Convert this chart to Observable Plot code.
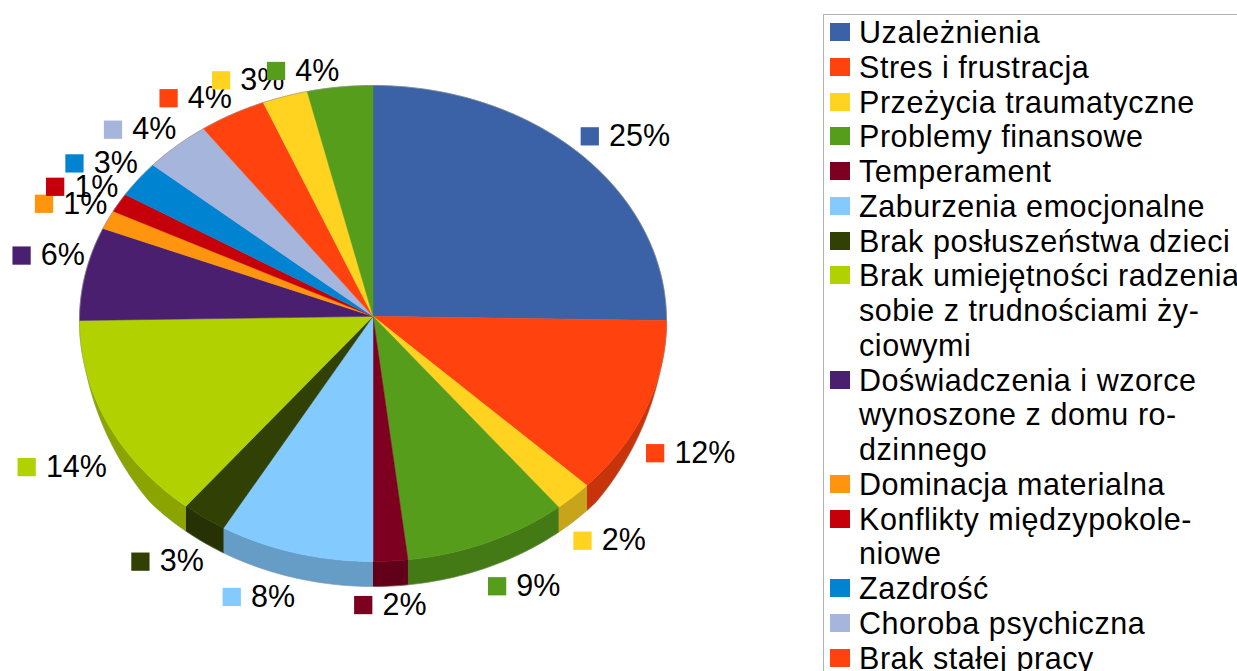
<!DOCTYPE html>
<html lang="pl">
<head>
<meta charset="utf-8">
<script src="https://cdn.jsdelivr.net/npm/d3@7"></script>
<script src="https://cdn.jsdelivr.net/npm/@observablehq/plot@0.6"></script>
<style>
html,body{margin:0;padding:0;background:#fff;width:1237px;height:671px;overflow:hidden;font-family:"Liberation Sans",Arial,sans-serif}
#chart{position:absolute;left:0;top:0}
#legend{position:absolute;left:823px;top:14px;width:414px;height:657px;box-sizing:border-box;border-left:1px solid #b3b3b3;border-top:1px solid #b3b3b3;overflow:hidden;color:#000}
.row{position:relative;padding-left:35px;font-size:30.5px;line-height:34.75px;letter-spacing:.55px;white-space:pre}
.row i{position:absolute;left:6px;top:8px;width:20px;height:18px}
</style>
</head>
<body>
<div id="chart"></div>
<div id="legend"></div>
<script>
// Slices, clockwise from 12 o'clock
const sliceValues = [25, 12, 2.1, 9, 1.9, 8.5, 2.5, 14, 6.4, 1.3, 1.3, 2.5, 3.7, 3.7, 2.5, 3.6];
const sliceLabels = ["25%","12%","2%","9%","2%","8%","3%","14%","6%","1%","1%","3%","4%","4%","3%","4%"];
const sliceColors = ["#3b62a6","#ff420e","#ffd320","#579d1c","#7e0021","#83caff","#314004","#b2d200","#4b1f6f","#ff950e","#c5000b","#0084d1","#a6b5dc","#ff420e","#ffd320","#579d1c"];
const legendNames = [
  "Uzależnienia","Stres i frustracja","Przeżycia traumatyczne","Problemy finansowe","Temperament",
  "Zaburzenia emocjonalne","Brak posłuszeństwa dzieci",
  "Brak umiejętności radzenia\nsobie z trudnościami ży-\nciowymi",
  "Doświadczenia i wzorce\nwynoszone z domu ro-\ndzinnego",
  "Dominacja materialna","Konflikty międzypokole-\nniowe","Zazdrość","Choroba psychiczna","Brak stałej pracy"
];

// Tilted-pie view (perspective: rear half slightly flatter, side wall tapers out at the flanks)
const APEX_Y = 0.03, DEPTH = 0.105, CENTER_Y = 0.0126, FS = 30.5;
const rim = (t, drop = 0) => {
  const c = Math.cos(t);
  return {x: Math.sin(t), y: CENTER_Y + c * (c > 0 ? 0.9874 : 1.0126) - drop};
};
const wall = t => DEPTH * Math.max(0, Math.min(1, (Math.abs(Math.cos(t)) - 0.2) / 0.45));
const slices = d3.pie().sort(null).value(d => d)(sliceValues).map((a, k) => ({k, t0: a.startAngle, t1: a.endAngle, mid: (a.startAngle + a.endAngle) / 2, label: sliceLabels[k]}));
const arcAngles = (t0, t1) => { const n = Math.max(2, Math.ceil((t1 - t0) / 0.015)); return d3.range(n + 1).map(i => t0 + (t1 - t0) * i / n); };

const topFaces = slices.flatMap(s => [{k: s.k, x: 0, y: APEX_Y}, ...arcAngles(s.t0, s.t1).map(t => ({k: s.k, ...rim(t)})), {k: s.k, x: 0, y: APEX_Y}]);
const sideFaces = slices.flatMap(s => {
  const a = Math.max(s.t0, Math.PI / 2), b = Math.min(s.t1, 3 * Math.PI / 2);
  if (b <= a) return [];
  const ts = arcAngles(a, b);
  return [...ts.map(t => ({k: s.k, ...rim(t)})), ...ts.slice().reverse().map(t => ({k: s.k, ...rim(t, wall(t))}))];
});
const upperOutline = arcAngles(-Math.PI / 2, Math.PI / 2).map(t => rim(t));
const lowerOutline = arcAngles(Math.PI / 2, 3 * Math.PI / 2).map(t => rim(t, wall(t)));

// Data labels: square + text, placed against the rim at the slice's middle angle
const labelMarks = slices.flatMap(s => {
  const lower = Math.cos(s.mid) < 0;
  const p = rim(s.mid, lower ? DEPTH : 0);
  const digits = s.label.length - 1;
  const w = 29 + (digits * 0.556 + 0.889) * FS;
  const centered = Math.abs(Math.sin(s.mid)) < 0.087 && lower;
  const left = centered ? -w / 2 : Math.sin(s.mid) > 0 ? 0 : -w;
  const rearLeft = !lower && Math.sin(s.mid) < -0.0 && s.mid > 5.06;
  const dy = lower ? 19 : rearLeft ? -16 : -18;
  const d = [{...p, k: s.k, label: s.label}];
  return [
    Plot.dot(d, {x: "x", y: "y", symbol: "square", r: 10.3, fill: "k", stroke: "none", dx: left + 9.25, dy}),
    Plot.text(d, {x: "x", y: "y", text: "label", dx: left + 28.5, dy, textAnchor: "start", lineAnchor: "middle", fontSize: FS, fill: "#000", fontFamily: "Liberation Sans"})
  ];
});

const chart = Plot.plot({
  width: 820, height: 671, margin: 0,
  style: {background: "transparent", overflow: "visible"},
  x: {domain: [-1, 1], range: [79, 666], axis: null},
  y: {domain: [-1, 1], range: [561, 85], axis: null},
  color: {domain: d3.range(sliceValues.length), range: sliceColors, type: "ordinal"},
  marks: [
    Plot.line(sideFaces, {x: "x", y: "y", z: "k", fill: "k", stroke: "k", strokeWidth: 0.5}),
    Plot.line(sideFaces, {x: "x", y: "y", z: "k", fill: "#000", fillOpacity: 0.22, stroke: "none"}),
    Plot.line(topFaces, {x: "x", y: "y", z: "k", fill: "k", stroke: "k", strokeWidth: 0.5}),
    Plot.line(upperOutline, {x: "x", y: "y", stroke: "#8c8c8c", strokeOpacity: 0.6, strokeWidth: 1}),
    Plot.line(lowerOutline, {x: "x", y: "y", stroke: "#8c8c8c", strokeOpacity: 0.4, strokeWidth: 1}),
    ...labelMarks
  ]
});
document.getElementById("chart").appendChild(chart);

const legend = d3.select("#legend");
legendNames.forEach((name, i) => {
  const row = legend.append("div").attr("class", "row").text(name);
  row.append("i").style("background", sliceColors[i]);
});
</script>
</body>
</html>
